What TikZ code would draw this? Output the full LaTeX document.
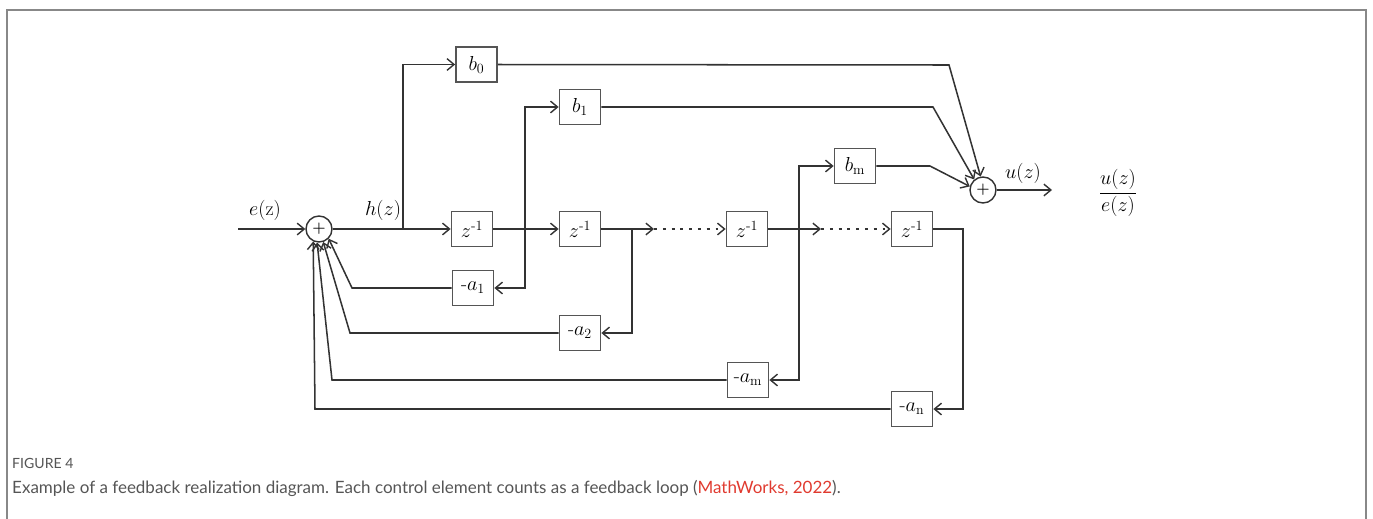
\documentclass[tikz,border=0pt]{standalone}
\usepackage{fontspec}
\usetikzlibrary{arrows.meta}
\newfontfamily\capfont{Lato}
\definecolor{ln}{HTML}{333333}
\definecolor{bx}{HTML}{555555}
\definecolor{capgray}{HTML}{555555}
\definecolor{capred}{HTML}{E03A2F}
\definecolor{frm}{HTML}{888888}
\newcommand{\zinv}{$z^{\mbox{\fontsize{12}{12}\selectfont -1}}$}
\begin{document}
\begin{tikzpicture}[x=0.03cm,y=-0.03cm,
  blk/.style={draw=bx,line width=1.5pt,minimum width=1.23cm,minimum height=1.05cm,inner sep=0pt,fill=white,font=\fontsize{17}{19}\selectfont},
  sumc/.style={draw=ln,circle,line width=1.2pt,minimum size=0.78cm,inner sep=0pt,font=\bfseries\fontsize{13}{13}\selectfont},
  wire/.style={draw=ln,line width=1.3pt},
  arr/.style={wire,-{Straight Barb[length=6pt,width=10pt,line width=1.2pt]}},
  dots/.style={dash pattern=on 2.5pt off 5pt},
  lbl/.style={font=\fontsize{17}{19}\selectfont,inner sep=0pt}]
\useasboundingbox (0,0) rectangle (1373,518);
% frame
\draw[frm,line width=1.5pt] (7,530) -- (7,10) -- (1366,10) -- (1366,530);

% nodes
\node[sumc] (s1) at (319,229) {+};
\node[sumc] (s2) at (983,190) {+};
\node[blk] (b0) at (476.5,64.5) {$b_0$};
\node[blk] (b1) at (580,107) {$b_1$};
\node[blk] (bm) at (855,166) {$b_{\mathrm{m}}$};
\node[blk] (z1) at (472,229) {\zinv};
\node[blk] (z2) at (580,229) {\zinv};
\node[blk] (z3) at (747,229) {\zinv};
\node[blk] (z4) at (912,229) {\zinv};
\node[blk] (a1) at (473,288) {-$a_1$};
\node[blk] (a2) at (580,333) {-$a_2$};
\node[blk] (am) at (748,380) {-$a_{\mathrm{m}}$};
\node[blk] (an) at (912,409) {-$a_{\mathrm{n}}$};

% labels
\node[lbl] (le) at (265,210) {$e(\mathrm{z})$};
\node[lbl] (lh) at (383,210) {$h(z)$};
\node[lbl] (lu) at (1023,173) {$u(z)$};
\node[lbl] (lf) at (1118,193) {$\displaystyle\frac{u(z)}{e(z)}$};

% coordinates
\coordinate (ein) at (238,229);
\coordinate (br0) at (403,229);
\coordinate (br1) at (525,229);
\coordinate (br2) at (632,229);
\coordinate (d1) at (654,229);
\coordinate (br3) at (799,229);
\coordinate (d2) at (821,229);
\coordinate (c4) at (963,229);
\coordinate (uout) at (1052,190);
\coordinate (f1) at (352,288);
\coordinate (f2) at (350,333);
\coordinate (fm) at (332,380);
\coordinate (fn) at (315,409);
\coordinate (g0) at (949,65);
\coordinate (g1) at (933,107);
\coordinate (gm) at (930,166);

% forward path
\draw[arr] (ein) -- (s1.west);
\draw[arr] (s1.east) -- (z1.west);
\draw[arr] (br0) |- (b0.west);
\draw[arr] (z1.east) -- (z2.west);
\draw[arr] (br1) |- (b1.west);
\draw[arr] (br1) |- (a1.east);
\draw[arr] (z2.east) -- (d1);
\draw[arr,dots] (d1) -- (z3.west);
\draw[arr] (br2) |- (a2.east);
\draw[arr] (z3.east) -- (d2);
\draw[arr,dots] (d2) -- (z4.west);
\draw[arr] (br3) |- (bm.west);
\draw[arr] (br3) |- (am.east);
\draw[arr] (z4.east) -- (c4) |- (an.east);

% feedback to sum 1
\draw[arr] (a1.west) -- (f1) -- (s1.315);
\draw[arr] (a2.west) -- (f2) -- (s1.288);
\draw[arr] (am.west) -- (fm) -- (s1.262);
\draw[arr] (an.west) -- (fn) -- (s1.245);

% to sum 2
\draw[arr] (b0.east) -- (g0) -- (s2.100);
\draw[arr] (b1.east) -- (g1) -- (s2.130);
\draw[arr] (bm.east) -- (gm) -- (s2.165);
\draw[arr] (s2.east) -- (uout);

% caption
\node[anchor=west,inner sep=0pt,text=capgray,font=\capfont\fontsize{12}{14}\selectfont] (cap1) at (12,463) {FIGURE 4};
\node[anchor=west,inner sep=0pt,text=capgray,font=\capfont\fontsize{14.5}{17}\selectfont] (cap2) at (12,488) {Example of a feedback realization diagram. Each control element counts as a feedback loop (\textcolor{capred}{MathWorks, 2022}).};
\end{tikzpicture}
\end{document}
